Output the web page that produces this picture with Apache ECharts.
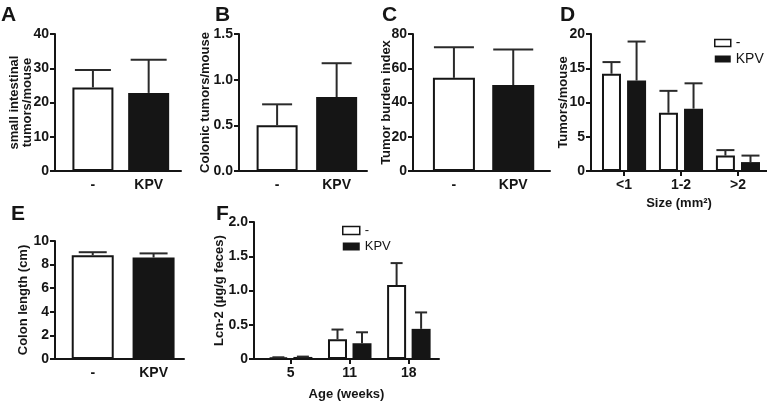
<!DOCTYPE html>
<html>
<head>
<meta charset="utf-8">
<script src="https://cdn.jsdelivr.net/npm/echarts@6/dist/echarts.min.js"></script>
<style>html,body{margin:0;padding:0;background:#fff}#c{width:767px;height:404px}</style>
</head>
<body>
<div id="c"></div>
<script>
// ---------- data ----------
const groups = ['-', 'KPV'];
const tumorsSI = [24.4, 22.8];
const tumorsSIErr = [5.1, 9.7];
const colonicTumors = [0.50, 0.81];
const colonicTumorsErr = [0.23, 0.37];
const burdenIndex = [54.4, 50.2];
const burdenIndexErr = [17.8, 20.8];
const sizeCats = ['<1', '1-2', '>2'];
const sizeCtrl = [14.2, 8.5, 2.25];
const sizeCtrlErr = [1.7, 3.2, 0.8];
const sizeKPV = [13.2, 9.1, 1.3];
const sizeKPVErr = [5.7, 3.7, 0.95];
const colonLength = [8.8, 8.6];
const colonLengthErr = [0.25, 0.35];
const ageCats = ['5', '11', '18'];
const lcnCtrl = [0.02, 0.29, 1.08];
const lcnCtrlErr = [0.005, 0.14, 0.32];
const lcnKPV = [0.03, 0.23, 0.44];
const lcnKPVErr = [0.005, 0.16, 0.24];
const ticksA = [0, 10, 20, 30, 40];
const ticksB = [0, 0.5, 1.0, 1.5];
const ticksC = [0, 20, 40, 60, 80];
const ticksD = [0, 5, 10, 15, 20];
const ticksE = [0, 2, 4, 6, 8, 10];
const ticksF = [0, 0.5, 1.0, 1.5, 2.0];

// ---------- style ----------
const FONT = '"Liberation Sans", Arial, Helvetica, sans-serif';
const INK = '#151515';
const WHITE_STYLE = {color: '#ffffff', borderColor: INK, borderWidth: 2};
const BLACK_STYLE = {color: INK, borderColor: INK, borderWidth: 0};

const option = {
  animation: false,
  backgroundColor: '#fff',
  textStyle: {fontFamily: FONT},
  title: [], grid: [], xAxis: [], yAxis: [], series: [], legend: []
};

function addPanel(p) {
  const gi = option.grid.length;
  option.grid.push({left: p.left, top: p.top, width: p.width, height: p.height});
  const cats = p.cats;
  const catIdx = cats.map((c, i) => i + 1);
  option.xAxis.push({
    type: 'value', gridIndex: gi, min: p.xmin, max: p.xmax,
    axisLine: {show: true, onZero: false, lineStyle: {color: INK, width: 2}},
    axisTick: {show: p.xTicks, customValues: catIdx, length: 5, lineStyle: {color: INK, width: 2}},
    axisLabel: {customValues: catIdx, formatter: v => cats[Math.round(v) - 1] || '',
      margin: 7, fontSize: 14, fontWeight: 'bold', color: INK, fontFamily: FONT},
    splitLine: {show: false},
    name: p.xName || '', nameLocation: 'middle', nameGap: p.xNameGap || 25, nameMoveOverlap: false,
    nameTextStyle: {fontSize: 13, fontWeight: 'bold', color: INK, fontFamily: FONT}
  });
  const t = p.ticks;
  option.yAxis.push({
    type: 'value', gridIndex: gi, min: t[0], max: t[t.length - 1], interval: t[1] - t[0],
    axisLine: {show: true, onZero: false, lineStyle: {color: INK, width: 2}},
    axisTick: {show: true, length: 5, lineStyle: {color: INK, width: 2}},
    axisLabel: {margin: 6, fontSize: 14, fontWeight: 'bold', color: INK, fontFamily: FONT,
      formatter: p.yFmt || (v => String(v))},
    splitLine: {show: false},
    name: p.yName, nameLocation: 'middle', nameRotate: 90, nameGap: p.yNameGap, nameMoveOverlap: false,
    nameTextStyle: {fontSize: 13, fontWeight: 'bold', color: INK, fontFamily: FONT, lineHeight: 13}
  });
  option.title.push({text: p.letter, left: p.letterX, top: p.letterY, padding: 0,
    textStyle: {fontSize: 21, fontWeight: 'bold', color: INK, fontFamily: FONT}});

  const sets = p.sets;
  const n = sets.length;
  sets.forEach((s) => {
    let data;
    if (n === 1) {
      data = s.vals.map((v, i) => ({value: [i + 1, v], itemStyle: s.styles[i]}));
    } else {
      data = s.vals.map((v, i) => [i + 1, v]);
    }
    option.series.push({
      type: 'bar', name: s.name, xAxisIndex: gi, yAxisIndex: gi,
      barWidth: p.barWidth, barGap: p.barGap || '0%', data: data,
      itemStyle: n === 1 ? {} : s.style, z: 2, silent: true
    });
  });
  sets.forEach((s, si) => {
    const off = n === 1 ? 0 : (si - (n - 1) / 2) * p.barWidth * (1 + parseFloat(p.barGap) / 100);
    const cap = p.capWidth;
    option.series.push({
      type: 'custom', name: s.name + ' err', xAxisIndex: gi, yAxisIndex: gi, z: 5, silent: true,
      encode: {x: 0, y: 1},
      data: s.vals.map((v, i) => [i + 1, v, s.errs[i]]),
      renderItem: (params, api) => {
        const x = api.value(0), m = api.value(1), e = api.value(2);
        const p0 = api.coord([x, m]);
        const p1 = api.coord([x, m + e]);
        const cx = p0[0] + off;
        return {type: 'group', children: [
          {type: 'line', shape: {x1: cx, y1: p0[1], x2: cx, y2: p1[1]}, style: {stroke: '#2a2a2a', lineWidth: 2}},
          {type: 'line', shape: {x1: cx - cap / 2, y1: p1[1], x2: cx + cap / 2, y2: p1[1]}, style: {stroke: '#2a2a2a', lineWidth: 2}}
        ]};
      }
    });
  });
}

// A
addPanel({letter: 'A', letterX: 1, letterY: 5, left: 55, top: 34, width: 126, height: 137,
  cats: groups, xmin: 0.32, xmax: 2.58, xTicks: false, ticks: ticksA,
  yName: 'small intestinal\ntumors/mouse', yNameGap: 21, barWidth: 41, capWidth: 36,
  sets: [{name: 'A', vals: tumorsSI, errs: tumorsSIErr, styles: [WHITE_STYLE, BLACK_STYLE]}]});
// B
addPanel({letter: 'B', letterX: 215, letterY: 5, left: 239, top: 34, width: 128, height: 137,
  cats: groups, xmin: 0.36, xmax: 2.51, xTicks: false, ticks: ticksB, yFmt: v => v.toFixed(1),
  yName: 'Colonic tumors/mouse', yNameGap: 27, barWidth: 41, capWidth: 30,
  sets: [{name: 'B', vals: colonicTumors, errs: colonicTumorsErr, styles: [WHITE_STYLE, BLACK_STYLE]}]});
// C
addPanel({letter: 'C', letterX: 382, letterY: 5, left: 413, top: 34, width: 137, height: 137,
  cats: groups, xmin: 0.31, xmax: 2.62, xTicks: false, ticks: ticksC,
  yName: 'Tumor burden index', yNameGap: 20, barWidth: 42, capWidth: 40,
  sets: [{name: 'C', vals: burdenIndex, errs: burdenIndexErr, styles: [WHITE_STYLE, BLACK_STYLE]}]});
// D
addPanel({letter: 'D', letterX: 560, letterY: 5, left: 591, top: 34, width: 184, height: 137,
  cats: sizeCats, xmin: 0.42, xmax: 3.51, xTicks: true, ticks: ticksD,
  yName: 'Tumors/mouse', yNameGap: 21, barWidth: 19, barGap: '32%', capWidth: 18,
  xName: 'Size (mm²)', xNameGap: 26,
  sets: [{name: '-', vals: sizeCtrl, errs: sizeCtrlErr, style: WHITE_STYLE},
         {name: 'KPV', vals: sizeKPV, errs: sizeKPVErr, style: BLACK_STYLE}]});
// E
addPanel({letter: 'E', letterX: 11, letterY: 204, left: 55, top: 241, width: 129, height: 118,
  cats: groups, xmin: 0.38, xmax: 2.5, xTicks: false, ticks: ticksE,
  yName: 'Colon length (cm)', yNameGap: 25, barWidth: 42, capWidth: 28,
  sets: [{name: 'E', vals: colonLength, errs: colonLengthErr, styles: [WHITE_STYLE, BLACK_STYLE]}]});
// F
addPanel({letter: 'F', letterX: 216, letterY: 204, left: 254, top: 222, width: 185, height: 137,
  cats: ageCats, xmin: 0.38, xmax: 3.51, xTicks: true, ticks: ticksF,
  yFmt: v => (v === 0 ? '0' : v.toFixed(1)),
  yName: 'Lcn-2 (µg/g feces)', yNameGap: 28, barWidth: 19, barGap: '29%', capWidth: 12,
  xName: 'Age (weeks)', xNameGap: 29,
  sets: [{name: '-', vals: lcnCtrl, errs: lcnCtrlErr, style: WHITE_STYLE},
         {name: 'KPV', vals: lcnKPV, errs: lcnKPVErr, style: BLACK_STYLE}]});

const legendItems = [
  {name: '-', icon: 'rect', itemStyle: {color: '#fff', borderColor: INK, borderWidth: 1.5}},
  {name: 'KPV', icon: 'rect', itemStyle: {color: INK, borderWidth: 0}}
];
option.legend.push({data: legendItems, icon: 'rect', orient: 'vertical', left: 714, top: 36, padding: 0,
  itemWidth: 16, itemHeight: 7, itemGap: 2, selectedMode: false,
  textStyle: {fontSize: 14, lineHeight: 14, color: INK, fontFamily: FONT}});
option.legend.push({data: legendItems, icon: 'rect', orient: 'vertical', left: 342, top: 224, padding: 0,
  itemWidth: 17, itemHeight: 8, itemGap: 3, selectedMode: false,
  textStyle: {fontSize: 13, lineHeight: 13, color: INK, fontFamily: FONT}});

const chart = echarts.init(document.getElementById('c'), null, {renderer: 'canvas'});
chart.setOption(option);
</script>
</body>
</html>
